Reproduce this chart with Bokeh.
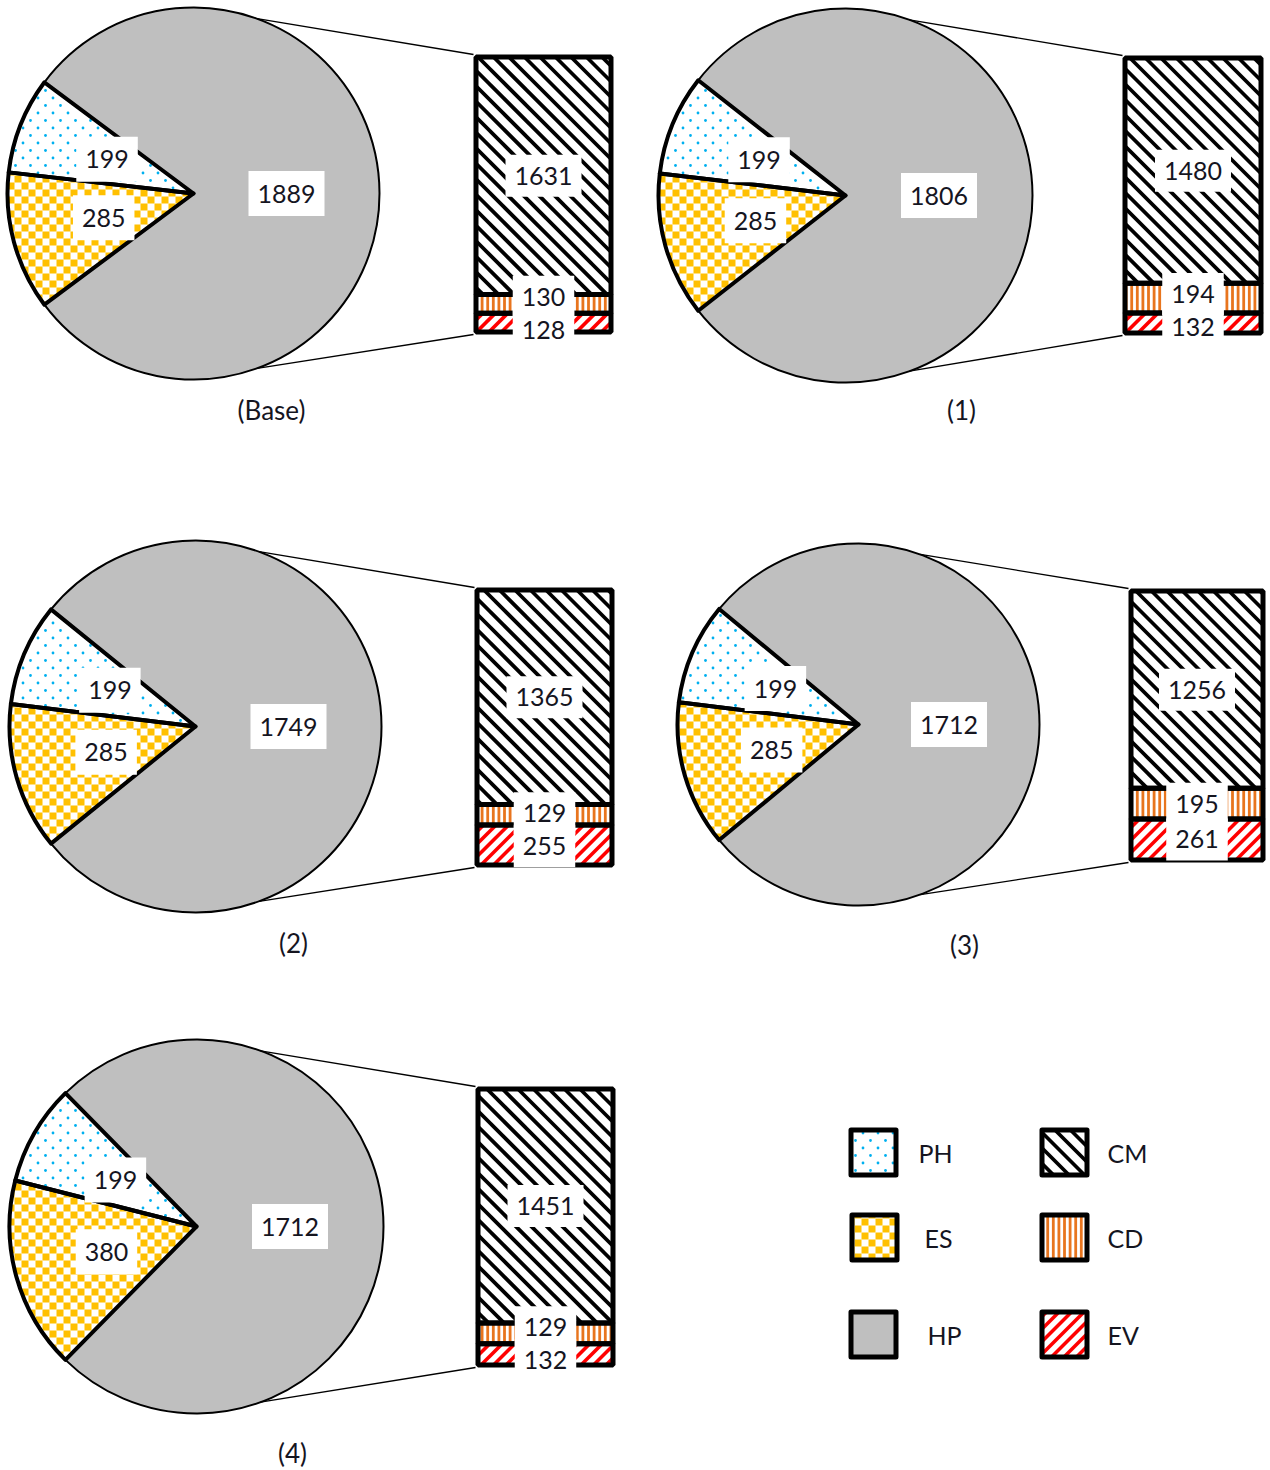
import math
from bokeh.plotting import figure
from bokeh.models import Range1d
from bokeh.embed import file_html
from bokeh.resources import INLINE
from bokeh.core.properties import value

# ---------------- data ----------------
panel_names = ["(Base)", "(1)", "(2)", "(3)", "(4)"]
ph_vals = [199, 199, 199, 199, 199]
es_vals = [285, 285, 285, 285, 380]
hp_vals = [1889, 1806, 1749, 1712, 1712]
cm_vals = [1631, 1480, 1365, 1256, 1451]
cd_vals = [130, 194, 129, 195, 129]
ev_vals = [128, 132, 255, 261, 132]
legend_names = ["PH", "ES", "HP", "CM", "CD", "EV"]

# ---------------- styles / layout ----------------
W, H = 1270, 1470
FONT = "Lato"
FS = "25px"
FS_CAP = "26px"
TXT = "#15151f"
C_HP = "#BFBFBF"
C_ES = "#FFC000"
C_PH = "#00B0F0"
C_CD = "#E8751E"
C_EV = "#FF0000"
C_CM = "#000000"

# pixel layout (origin top-left)
panels = [
    dict(cx=193, cy=193, r=186, bx0=473, bx1=613, by0=54, by1=334, lx=271, ly=409),
    dict(cx=845, cy=195, r=187, bx0=1122, bx1=1263, by0=55, by1=335, lx=961, ly=409),
    dict(cx=195, cy=726, r=186, bx0=474, bx1=614, by0=587, by1=867, lx=293, ly=942),
    dict(cx=858, cy=724, r=181, bx0=1128, bx1=1265, by0=588, by1=862, lx=964, ly=944),
    dict(cx=196, cy=1226, r=187, bx0=475, bx1=615, by0=1086, by1=1367, lx=292, ly=1452),
]
legend_pos = [  # box centre (px) and label left x
    (873, 1152, 918), (874, 1237, 924), (873, 1334, 927),
    (1064, 1152, 1107), (1064, 1237, 1107), (1064, 1334, 1107),
]
CONN_ANG = math.radians(70)


def Y(y):
    return H - y


# ---------------- geometry helpers ----------------
def clip_poly(subject, clip):
    def inside(p, a, b):
        return (b[0] - a[0]) * (p[1] - a[1]) - (b[1] - a[1]) * (p[0] - a[0]) >= 0

    def inter(s, e, a, b):
        dcx, dcy = a[0] - b[0], a[1] - b[1]
        dpx, dpy = s[0] - e[0], s[1] - e[1]
        n1 = a[0] * b[1] - a[1] * b[0]
        n2 = s[0] * e[1] - s[1] * e[0]
        den = dcx * dpy - dcy * dpx
        return ((n1 * dpx - n2 * dcx) / den, (n1 * dpy - n2 * dcy) / den)

    out = list(subject)
    n = len(clip)
    for i in range(n):
        a, b = clip[i], clip[(i + 1) % n]
        inp = out
        out = []
        if not inp:
            break
        s = inp[-1]
        for e in inp:
            if inside(e, a, b):
                if not inside(s, a, b):
                    out.append(inter(s, e, a, b))
                out.append(e)
            elif inside(s, a, b):
                out.append(inter(s, e, a, b))
            s = e
    return out


def wedge_poly(cx, cy, r, a0, a1):
    n = max(8, int(math.degrees(a1 - a0)) + 1)
    pts = [(cx, cy)]
    for k in range(n + 1):
        a = a0 + (a1 - a0) * k / n
        pts.append((cx + r * math.cos(a), cy + r * math.sin(a)))
    return pts


def rect_poly(x0, x1, y0, y1):
    return [(x0, y0), (x1, y0), (x1, y1), (x0, y1)]


def checker(poly, cell, xs, ys):
    px = [p[0] for p in poly]
    py = [p[1] for p in poly]
    i0, i1 = math.floor(min(px) / cell), math.floor(max(px) / cell)
    j0, j1 = math.floor(min(py) / cell), math.floor(max(py) / cell)
    for i in range(i0, i1 + 1):
        for j in range(j0, j1 + 1):
            if (i + j) % 2:
                continue
            sq = rect_poly(i * cell, (i + 1) * cell, j * cell, (j + 1) * cell)
            cl = clip_poly(sq, poly)
            if len(cl) >= 3:
                xs.append([q[0] for q in cl])
                ys.append([q[1] for q in cl])


def dots(poly, dx, dy, margin, xs, ys):
    px = [p[0] for p in poly]
    py = [p[1] for p in poly]
    n = len(poly)
    j0, j1 = math.floor(min(py) / dy), math.ceil(max(py) / dy)
    for j in range(j0, j1 + 1):
        yy = j * dy
        off = (j % 2) * dx / 2
        i0, i1 = math.floor(min(px) / dx) - 1, math.ceil(max(px) / dx) + 1
        for i in range(i0, i1 + 1):
            xx = i * dx + off
            ok = True
            for k in range(n):
                a, b = poly[k], poly[(k + 1) % n]
                L = math.hypot(b[0] - a[0], b[1] - a[1])
                if L == 0:
                    continue
                c = ((b[0] - a[0]) * (yy - a[1]) - (b[1] - a[1]) * (xx - a[0])) / L
                if c < margin:
                    ok = False
                    break
            if ok:
                xs.append(xx)
                ys.append(yy)


def diag_lines(x0, x1, y0, y1, period, kind, xs, ys):
    if kind == "back":  # "\" : x + y = c
        k0, k1 = math.ceil((x0 + y0) / period), math.floor((x1 + y1) / period)
        for k in range(k0, k1 + 1):
            c = k * period
            xa, xb = max(x0, c - y1), min(x1, c - y0)
            if xb > xa:
                xs.append([xa, xb])
                ys.append([c - xa, c - xb])
    else:  # "/" : y = x - c
        k0, k1 = math.ceil((x0 - y1) / period), math.floor((x1 - y0) / period)
        for k in range(k0, k1 + 1):
            c = k * period
            xa, xb = max(x0, y0 + c), min(x1, y1 + c)
            if xb > xa:
                xs.append([xa, xb])
                ys.append([xa - c, xb - c])


def vert_lines(x0, x1, y0, y1, period, xs, ys):
    k0, k1 = math.ceil(x0 / period), math.floor(x1 / period)
    for k in range(k0, k1 + 1):
        xx = k * period
        if x0 + 0.5 < xx < x1 - 0.5:
            xs.append([xx, xx])
            ys.append([y0, y1])


# ---------------- figure ----------------
p = figure(width=W, height=H, x_range=Range1d(0, W), y_range=Range1d(0, H),
           output_backend="svg", toolbar_location=None, min_border=0,
           x_axis_location=None, y_axis_location=None,
           background_fill_color="white", border_fill_color="white")
p.outline_line_color = None
p.xgrid.visible = False
p.ygrid.visible = False

wd = {k: dict(x=[], y=[], r=[], s=[], e=[]) for k in ("PH", "ES", "HP")}
chk_x, chk_y = [], []
dot_x, dot_y = [], []
conn_x, conn_y = [], []
bar = {k: dict(l=[], r=[], b=[], t=[]) for k in ("CM", "CD", "EV")}
cm_x, cm_y, cd_x, cd_y, ev_x, ev_y = [], [], [], [], [], []
lab_x, lab_y, lab_t, box_l, box_r, box_b, box_t = [], [], [], [], [], [], []

CM_P, CD_P, EV_P = 15.5, 5.6, 12.5


def add_label(x, y, txt, h):
    w = 14.5 * len(txt) + 18
    lab_x.append(x)
    lab_y.append(y)
    lab_t.append(txt)
    box_l.append(x - w / 2)
    box_r.append(x + w / 2)
    box_b.append(y - h / 2)
    box_t.append(y + h / 2)


for i, g in enumerate(panels):
    cx, cy, r = g["cx"], Y(g["cy"]), g["r"]
    ph, es, hp = ph_vals[i], es_vals[i], hp_vals[i]
    tot = ph + es + hp
    a_ph = 2 * math.pi * ph / tot
    a_es = 2 * math.pi * es / tot
    half = (a_ph + a_es) / 2
    ang = {
        "PH": (math.pi - half, math.pi - half + a_ph),
        "ES": (math.pi - half + a_ph, math.pi + half),
        "HP": (half - math.pi, math.pi - half),
    }
    for k, (s, e) in ang.items():
        wd[k]["x"].append(cx)
        wd[k]["y"].append(cy)
        wd[k]["r"].append(r)
        wd[k]["s"].append(s)
        wd[k]["e"].append(e)
    checker(wedge_poly(cx, cy, r, *ang["ES"]), 7.0, chk_x, chk_y)
    dots(wedge_poly(cx, cy, r, *ang["PH"]), 15.0, 7.5, 2.5, dot_x, dot_y)

    for k, v in (("PH", ph), ("ES", es), ("HP", hp)):
        s, e = ang[k]
        m = (s + e) / 2
        add_label(cx + 0.5 * r * math.cos(m), cy + 0.5 * r * math.sin(m), str(v), 45)

    # bar of pie
    x0, x1 = g["bx0"] + 2.5, g["bx1"] - 2.5
    yt, yb = Y(g["by0"]) - 2.5, Y(g["by1"]) + 2.5
    vals = [cm_vals[i], cd_vals[i], ev_vals[i]]
    sc = (yt - yb) / sum(vals)
    top = yt
    edges = []
    for k, v in zip(("CM", "CD", "EV"), vals):
        bot = top - v * sc
        bar[k]["l"].append(x0)
        bar[k]["r"].append(x1)
        bar[k]["t"].append(top)
        bar[k]["b"].append(bot)
        edges.append((top, bot))
        top = bot
    diag_lines(x0, x1, edges[0][1], edges[0][0], CM_P, "back", cm_x, cm_y)
    vert_lines(x0, x1, edges[1][1], edges[1][0], CD_P, cd_x, cd_y)
    diag_lines(x0, x1, edges[2][1], edges[2][0], EV_P, "fwd", ev_x, ev_y)

    cents = [(a + b) / 2 for a, b in edges]
    SEP = 33
    if cents[1] - cents[2] < SEP:
        mid = (cents[1] + cents[2]) / 2
        cents[1], cents[2] = mid + SEP / 2, mid - SEP / 2
    bxm = (g["bx0"] + g["bx1"]) / 2
    for v, yc in zip(vals, cents):
        add_label(bxm, yc, str(v), 42)

    # connector lines
    conn_x.append([cx + r * math.cos(CONN_ANG), g["bx0"]])
    conn_y.append([cy + r * math.sin(CONN_ANG), Y(g["by0"])])
    conn_x.append([cx + r * math.cos(-CONN_ANG), g["bx0"]])
    conn_y.append([cy + r * math.sin(-CONN_ANG), Y(g["by1"])])

# ---------------- legend geometry ----------------
leg_boxes = dict(l=[], r=[], b=[], t=[])
leg_fill = []
for name, (bx, by, tx) in zip(legend_names, legend_pos):
    byY = Y(by)
    x0, x1, y0, y1 = bx - 22.5, bx + 22.5, byY - 22.5, byY + 22.5
    leg_boxes["l"].append(x0)
    leg_boxes["r"].append(x1)
    leg_boxes["b"].append(y0)
    leg_boxes["t"].append(y1)
    leg_fill.append(C_HP if name == "HP" else "white")
    if name == "PH":
        dots(rect_poly(x0, x1, y0, y1), 15.0, 7.5, 3.0, dot_x, dot_y)
    elif name == "ES":
        checker(rect_poly(x0, x1, y0, y1), 7.0, chk_x, chk_y)
    elif name == "CM":
        diag_lines(x0, x1, y0, y1, CM_P, "back", cm_x, cm_y)
    elif name == "CD":
        vert_lines(x0, x1, y0, y1, CD_P, cd_x, cd_y)
    elif name == "EV":
        diag_lines(x0, x1, y0, y1, EV_P, "fwd", ev_x, ev_y)

# ---------------- drawing ----------------
# pie fills
p.wedge(x=wd["HP"]["x"], y=wd["HP"]["y"], radius=wd["HP"]["r"], start_angle=wd["HP"]["s"],
        end_angle=wd["HP"]["e"], fill_color=C_HP, line_color=None)
for k in ("PH", "ES"):
    p.wedge(x=wd[k]["x"], y=wd[k]["y"], radius=wd[k]["r"], start_angle=wd[k]["s"],
            end_angle=wd[k]["e"], fill_color="white", line_color=None)

# legend box fills
p.quad(left=leg_boxes["l"], right=leg_boxes["r"], bottom=leg_boxes["b"], top=leg_boxes["t"],
       fill_color=leg_fill, line_color=None)

# bar fills
for k in ("CM", "CD", "EV"):
    p.quad(left=bar[k]["l"], right=bar[k]["r"], bottom=bar[k]["b"], top=bar[k]["t"],
           fill_color="white", line_color=None)

# patterns
p.patches(xs=chk_x, ys=chk_y, fill_color=C_ES, line_color=None)
p.scatter(x=dot_x, y=dot_y, size=2.8, fill_color=C_PH, line_color=None, marker="circle")
p.multi_line(xs=cm_x, ys=cm_y, line_color=C_CM, line_width=3.8)
p.multi_line(xs=cd_x, ys=cd_y, line_color=C_CD, line_width=2.8)
p.multi_line(xs=ev_x, ys=ev_y, line_color=C_EV, line_width=3.6)

# pie outlines
p.wedge(x=wd["HP"]["x"], y=wd["HP"]["y"], radius=wd["HP"]["r"], start_angle=wd["HP"]["s"],
        end_angle=wd["HP"]["e"], fill_color=None, line_color="black", line_width=2)
for k in ("PH", "ES"):
    p.wedge(x=wd[k]["x"], y=wd[k]["y"], radius=wd[k]["r"], start_angle=wd[k]["s"],
            end_angle=wd[k]["e"], fill_color=None, line_color="black", line_width=4,
            line_join="round")

# connectors
p.multi_line(xs=conn_x, ys=conn_y, line_color="black", line_width=1.3)

# bar outlines
for k in ("CM", "CD", "EV"):
    p.quad(left=bar[k]["l"], right=bar[k]["r"], bottom=bar[k]["b"], top=bar[k]["t"],
           fill_color=None, line_color="black", line_width=5)

# legend outlines
p.quad(left=leg_boxes["l"], right=leg_boxes["r"], bottom=leg_boxes["b"], top=leg_boxes["t"],
       fill_color=None, line_color="black", line_width=5, line_join="round")

# data labels
p.quad(left=box_l, right=box_r, bottom=box_b, top=box_t, fill_color="white", line_color=None)
p.text(x=lab_x, y=lab_y, text=lab_t, text_align="center", text_baseline="middle",
       text_font=value(FONT), text_font_size=FS, text_color=TXT)

# panel captions
p.text(x=[g["lx"] for g in panels], y=[Y(g["ly"]) for g in panels], text=panel_names,
       text_align="center", text_baseline="middle", text_font=value(FONT),
       text_font_size=FS_CAP, text_color=TXT)

# legend labels
p.text(x=[q[2] for q in legend_pos], y=[Y(q[1]) for q in legend_pos], text=legend_names,
       text_align="left", text_baseline="middle", text_font=value(FONT),
       text_font_size=FS, text_color=TXT)

open("out.html", "w").write(file_html(p, INLINE))
